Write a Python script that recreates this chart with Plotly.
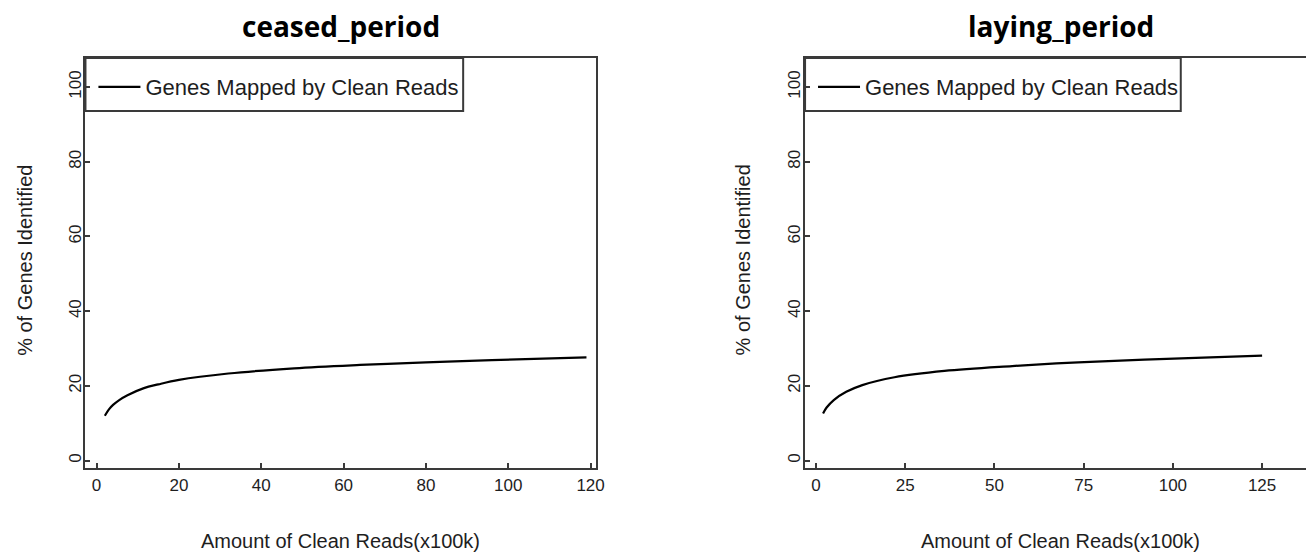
import plotly.graph_objects as go

# ---- data ----
ceased_x = [2, 3, 4, 5.5, 7.5, 11.5, 15, 20, 32, 48, 64, 80, 96, 119]
ceased_y = [12.0, 13.7, 14.9, 16.2, 17.5, 19.4, 20.4, 21.6, 23.3, 24.7, 25.6, 26.3, 26.9, 27.6]

laying_x = [2, 3, 5, 8.5, 13, 22, 36, 55, 73.5, 92, 110.5, 125]
laying_y = [12.6, 14.2, 16.2, 18.4, 20.2, 22.3, 24.0, 25.3, 26.3, 27.0, 27.6, 28.1]

panel_titles = ["ceased_period", "laying_period"]
series_name = "Genes Mapped by Clean Reads"
x_title = "Amount of Clean Reads(x100k)"
y_title = "% of Genes Identified"
ceased_xticks = [0, 20, 40, 60, 80, 100, 120]
laying_xticks = [0, 25, 50, 75, 100, 125]
y_ticks = [0, 20, 40, 60, 80, 100]

W, H = 1314, 554
FONT = "Arial, Liberation Sans, sans-serif"
LINE_C = "#3a3a3a"
TXT_C = "#1e1e1e"

fig = go.Figure()
fig.add_trace(go.Scatter(x=ceased_x, y=ceased_y, mode="lines", name=series_name,
                         line=dict(color="black", width=2.2, shape="spline"),
                         xaxis="x", yaxis="y", legend="legend"))
fig.add_trace(go.Scatter(x=laying_x, y=laying_y, mode="lines", name=series_name,
                         line=dict(color="black", width=2.2, shape="spline"),
                         xaxis="x2", yaxis="y2", legend="legend2"))

ydom = [(H - 468) / H, (H - 58) / H]
ax_common = dict(showgrid=False, zeroline=False, showline=True, linecolor=LINE_C,
                 linewidth=2, ticks="inside", ticklen=5, tickwidth=2, tickcolor=LINE_C,
                 tickfont=dict(family=FONT, size=17, color=TXT_C))

leg_common = dict(yanchor="top", xanchor="left", borderwidth=0, bgcolor="rgba(0,0,0,0)",
                  font=dict(family=FONT, size=22, color=TXT_C), itemwidth=42)

fig.update_layout(
    width=W, height=H, margin=dict(l=0, r=0, t=0, b=0),
    paper_bgcolor="white", plot_bgcolor="white",
    xaxis=dict(domain=[86 / W, 600 / W], range=[-2.7, 121.4], tickvals=ceased_xticks,
               mirror=True, anchor="y", ticklabelstandoff=1, **ax_common),
    yaxis=dict(domain=ydom, range=[-2.0, 107.8], tickvals=y_ticks, tickangle=-90,
               mirror=True, anchor="x", ticklabelstandoff=-4, **ax_common),
    xaxis2=dict(domain=[810 / W, 1.0], range=[-3.04, 137.3], tickvals=laying_xticks,
                mirror=True, anchor="y2", ticklabelstandoff=1, **ax_common),
    yaxis2=dict(domain=ydom, range=[-2.0, 107.8], tickvals=y_ticks, tickangle=-90,
                mirror=False, anchor="x2", ticklabelstandoff=-4, **ax_common),
    legend=dict(x=94 / W, y=1 - 66 / H, **leg_common),
    legend2=dict(x=818 / W, y=1 - 66 / H, **leg_common),
    showlegend=True,
)

# legend frames (R-style box in the top-left corner of each panel)
for x0, x1 in [(86, 466), (810, 1188)]:
    fig.add_shape(type="rect", xref="paper", yref="paper",
                  x0=x0 / W, x1=x1 / W, y0=1 - 111 / H, y1=1 - 58 / H,
                  line=dict(color=LINE_C, width=2), fillcolor="rgba(0,0,0,0)")

# panel titles and axis titles
centers = [343, 1067]
ylab_x = [25, 748]
for i in range(2):
    fig.add_annotation(text="<b>%s</b>" % panel_titles[i], x=centers[i] / W, y=1 - 26 / H,
                       xref="paper", yref="paper", showarrow=False,
                       xanchor="center", yanchor="middle",
                       font=dict(family="Open Sans, sans-serif", size=28, color="black"))
    fig.add_annotation(text=x_title, x=centers[i] / W, y=0,
                       xref="paper", yref="paper", showarrow=False,
                       xanchor="center", yanchor="bottom",
                       font=dict(family=FONT, size=20, color=TXT_C))
    fig.add_annotation(text=y_title, x=ylab_x[i] / W, y=1 - 260 / H, textangle=-90,
                       xref="paper", yref="paper", showarrow=False,
                       xanchor="center", yanchor="middle",
                       font=dict(family=FONT, size=20, color=TXT_C))

fig.write_html("out.html", config={"displayModeBar": False},
               post_script="document.body.style.margin='0px';")
